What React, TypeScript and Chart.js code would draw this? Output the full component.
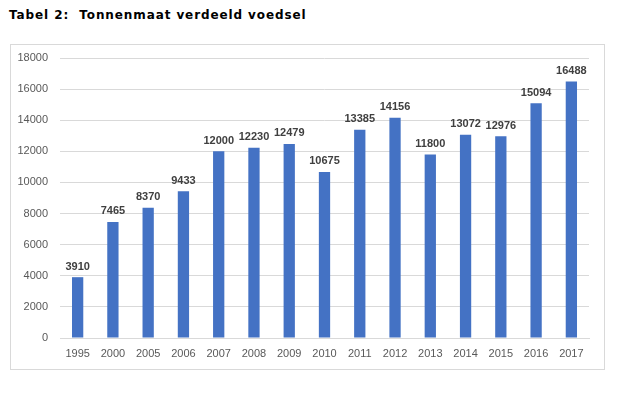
import React, { useEffect, useRef } from "react";
import { Chart, registerables } from "chart.js";

Chart.register(...registerables);

const categories = ["1995", "2000", "2005", "2006", "2007", "2008", "2009", "2010", "2011", "2012", "2013", "2014", "2015", "2016", "2017"];
const tonnage = [3910, 7465, 8370, 9433, 12000, 12230, 12479, 10675, 13385, 14156, 11800, 13072, 12976, 15094, 16488];
const yMax = 18000;
const yStep = 2000;
const titleText = "Tabel 2:  Tonnenmaat verdeeld voedsel";

const labelPlugin = {
  id: "barValueLabels",
  afterDatasetsDraw(chart: any) {
    const ctx = chart.ctx;
    const meta = chart.getDatasetMeta(0);
    ctx.save();
    ctx.font = "bold 11px 'Liberation Sans', Arial, sans-serif";
    ctx.fillStyle = "#404040";
    ctx.textAlign = "center";
    ctx.textBaseline = "bottom";
    meta.data.forEach((bar: any, i: number) => {
      ctx.fillText(String(tonnage[i]), bar.x, bar.y - 5);
    });
    ctx.restore();
  },
};

export default function App() {
  const ref = useRef<HTMLCanvasElement>(null);
  useEffect(() => {
    document.body.style.margin = "0";
    const chart = new Chart(ref.current!, {
      type: "bar",
      data: {
        labels: categories,
        datasets: [
          {
            data: tonnage,
            backgroundColor: "#4472C4",
            barPercentage: 0.32,
            categoryPercentage: 1,
          },
        ],
      },
      options: {
        animation: false,
        responsive: false,
        maintainAspectRatio: false,
        layout: { padding: { left: 10, right: 42, top: 58, bottom: 30 } },
        plugins: { legend: { display: false }, tooltip: { enabled: false }, title: { display: false } },
        scales: {
          x: {
            grid: { display: false, drawTicks: false },
            border: { display: true, color: "#d9d9d9" },
            ticks: { color: "#595959", font: { family: "'Liberation Sans', Arial, sans-serif", size: 11 }, padding: 9, maxRotation: 0 },
            afterFit: (s: any) => { s.height = 26; },
          },
          y: {
            min: 0,
            max: yMax,
            ticks: {
              stepSize: yStep,
              color: "#595959",
              font: { family: "'Liberation Sans', Arial, sans-serif", size: 11 },
              padding: 12,
              callback: (v: any) => String(v),
            },
            grid: { color: "#d9d9d9", drawTicks: false },
            border: { display: false },
            afterFit: (s: any) => { s.width = 50; },
          },
        },
      },
      plugins: [labelPlugin],
    });
    return () => chart.destroy();
  }, []);
  return (
    <div style={{ position: "absolute", left: 0, top: 0, width: 631, height: 394, background: "#fff" }}>
      <div
        style={{
          position: "absolute",
          left: 9,
          top: 8,
          font: "bold 12px 'DejaVu Sans', Verdana, sans-serif",
          letterSpacing: "0.9px",
          color: "#000",
          whiteSpace: "pre",
        }}
      >
        {titleText}
      </div>
      <div
        style={{
          position: "absolute",
          left: 10,
          top: 44,
          width: 593,
          height: 324,
          border: "1px solid #d9d9d9",
        }}
      />
      <canvas ref={ref} width={631} height={394} style={{ position: "absolute", left: 0, top: 0 }} />
    </div>
  );
}
